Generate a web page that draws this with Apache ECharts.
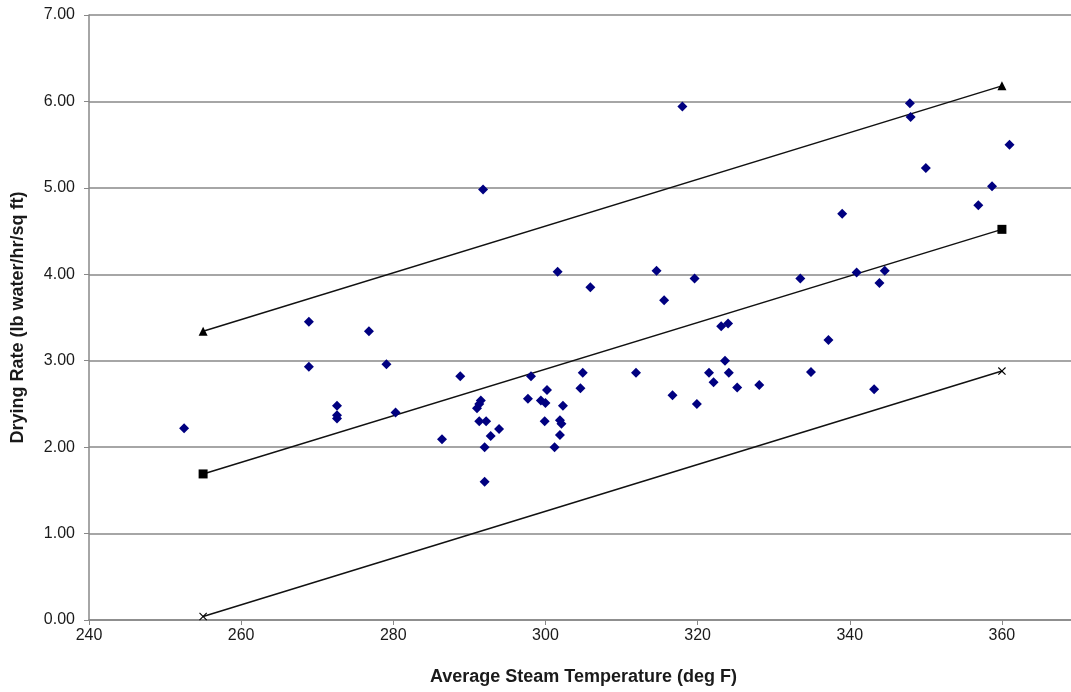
<!DOCTYPE html>
<html>
<head>
<meta charset="utf-8">
<script src="https://cdn.jsdelivr.net/npm/echarts@6/dist/echarts.min.js"></script>
<style>
    html, body { margin: 0; padding: 0; background: #fff; }
    #chart { width: 1071px; height: 692px; }
</style>
</head>
<body>
<div id="chart"></div>
<script>
'use strict';

// measured points: [steam temp (deg F), drying rate]
var measured = [
    [252.5, 2.22], [268.9, 3.45], [268.9, 2.93], [272.6, 2.48], [272.6, 2.37],
    [272.6, 2.33], [276.8, 3.34], [279.1, 2.96], [280.3, 2.40], [286.4, 2.09],
    [288.8, 2.82], [291.5, 2.54], [291.3, 2.50], [291.0, 2.45], [291.3, 2.30],
    [292.2, 2.30], [292.0, 2.00], [292.0, 1.60], [292.8, 2.13], [293.9, 2.21],
    [291.8, 4.98], [298.1, 2.82], [297.7, 2.56], [299.4, 2.54], [300.0, 2.51],
    [300.2, 2.66], [299.9, 2.30], [301.2, 2.00], [301.9, 2.31], [302.1, 2.27],
    [301.9, 2.14], [302.3, 2.48], [301.6, 4.03], [304.6, 2.68], [304.9, 2.86],
    [305.9, 3.85], [311.9, 2.86], [314.6, 4.04], [315.6, 3.70], [316.7, 2.60],
    [318.0, 5.94], [319.6, 3.95], [319.9, 2.50], [321.5, 2.86], [322.1, 2.75],
    [323.1, 3.40], [324.0, 3.43], [323.6, 3.00], [324.1, 2.86], [325.2, 2.69],
    [328.1, 2.72], [333.5, 3.95], [334.9, 2.87], [337.2, 3.24], [339.0, 4.70],
    [340.9, 4.02], [343.2, 2.67], [343.9, 3.90], [344.6, 4.04], [347.9, 5.98],
    [348.0, 5.82], [350.0, 5.23], [356.9, 4.80], [358.7, 5.02], [361.0, 5.50]
];

// fitted line and bounds
var upperBound = [[255, 3.34], [360, 6.18]];
var fitLine = [[255, 1.69], [360, 4.52]];
var lowerBound = [[255, 0.04], [360, 2.88]];

var xTitle = 'Average Steam Temperature (deg F)';
var yTitle = 'Drying Rate (lb water/hr/sq ft)';

var crossSymbol = 'path://M0,1L1,0L5,4L9,0L10,1L6,5L10,9L9,10L5,6L1,10L0,9L4,5Z';

var chart = echarts.init(document.getElementById('chart'));

var lineSeries = function(data, symbol, size) {
    return {
        type: 'line',
        data: data,
        symbol: symbol,
        symbolSize: size,
        showAllSymbol: true,
        itemStyle: { color: '#000', opacity: 1 },
        lineStyle: { color: '#111', width: 1.5 },
        silent: true,
        z: 3
    };
};

var option = {
    animation: false,
    backgroundColor: '#fff',
    textStyle: { fontFamily: 'Liberation Sans, Arial, sans-serif' },
    grid: {
        left: 89,
        top: 15,
        right: -7,
        bottom: 72,
        outerBoundsMode: 'none',
        containLabel: false
    },
    xAxis: {
        type: 'value',
        min: 240,
        max: 370,
        interval: 20,
        name: xTitle,
        nameLocation: 'middle',
        nameGap: 48,
        nameTextStyle: { fontSize: 18, fontWeight: 'bold', color: '#1a1a1a' },
        axisLine: { lineStyle: { color: '#888', width: 1.5 } },
        axisTick: { show: true, length: 5, lineStyle: { color: '#888' } },
        axisLabel: { fontSize: 16, color: '#1a1a1a', margin: 8, showMaxLabel: false },
        splitLine: { show: false }
    },
    yAxis: {
        type: 'value',
        min: 0,
        max: 7,
        interval: 1,
        name: yTitle,
        nameLocation: 'middle',
        nameGap: 62,
        nameTextStyle: { fontSize: 18, fontWeight: 'bold', color: '#1a1a1a' },
        axisLine: { show: true, lineStyle: { color: '#888', width: 1.5 } },
        axisTick: { show: true, length: 5, lineStyle: { color: '#888' } },
        axisLabel: {
            fontSize: 16,
            color: '#1a1a1a',
            margin: 14,
            formatter: function(v) { return v.toFixed(2); }
        },
        splitLine: { show: true, lineStyle: { color: '#888', width: 1.5 } }
    },
    series: [
        {
            type: 'scatter',
            data: measured,
            symbol: 'diamond',
            symbolSize: 10,
            itemStyle: { color: '#000080', opacity: 1 },
            z: 4
        },
        lineSeries(upperBound, 'triangle', 9),
        lineSeries(fitLine, 'rect', 9),
        lineSeries(lowerBound, crossSymbol, 8)
    ]
};
chart.setOption(option);
</script>
</body>
</html>
